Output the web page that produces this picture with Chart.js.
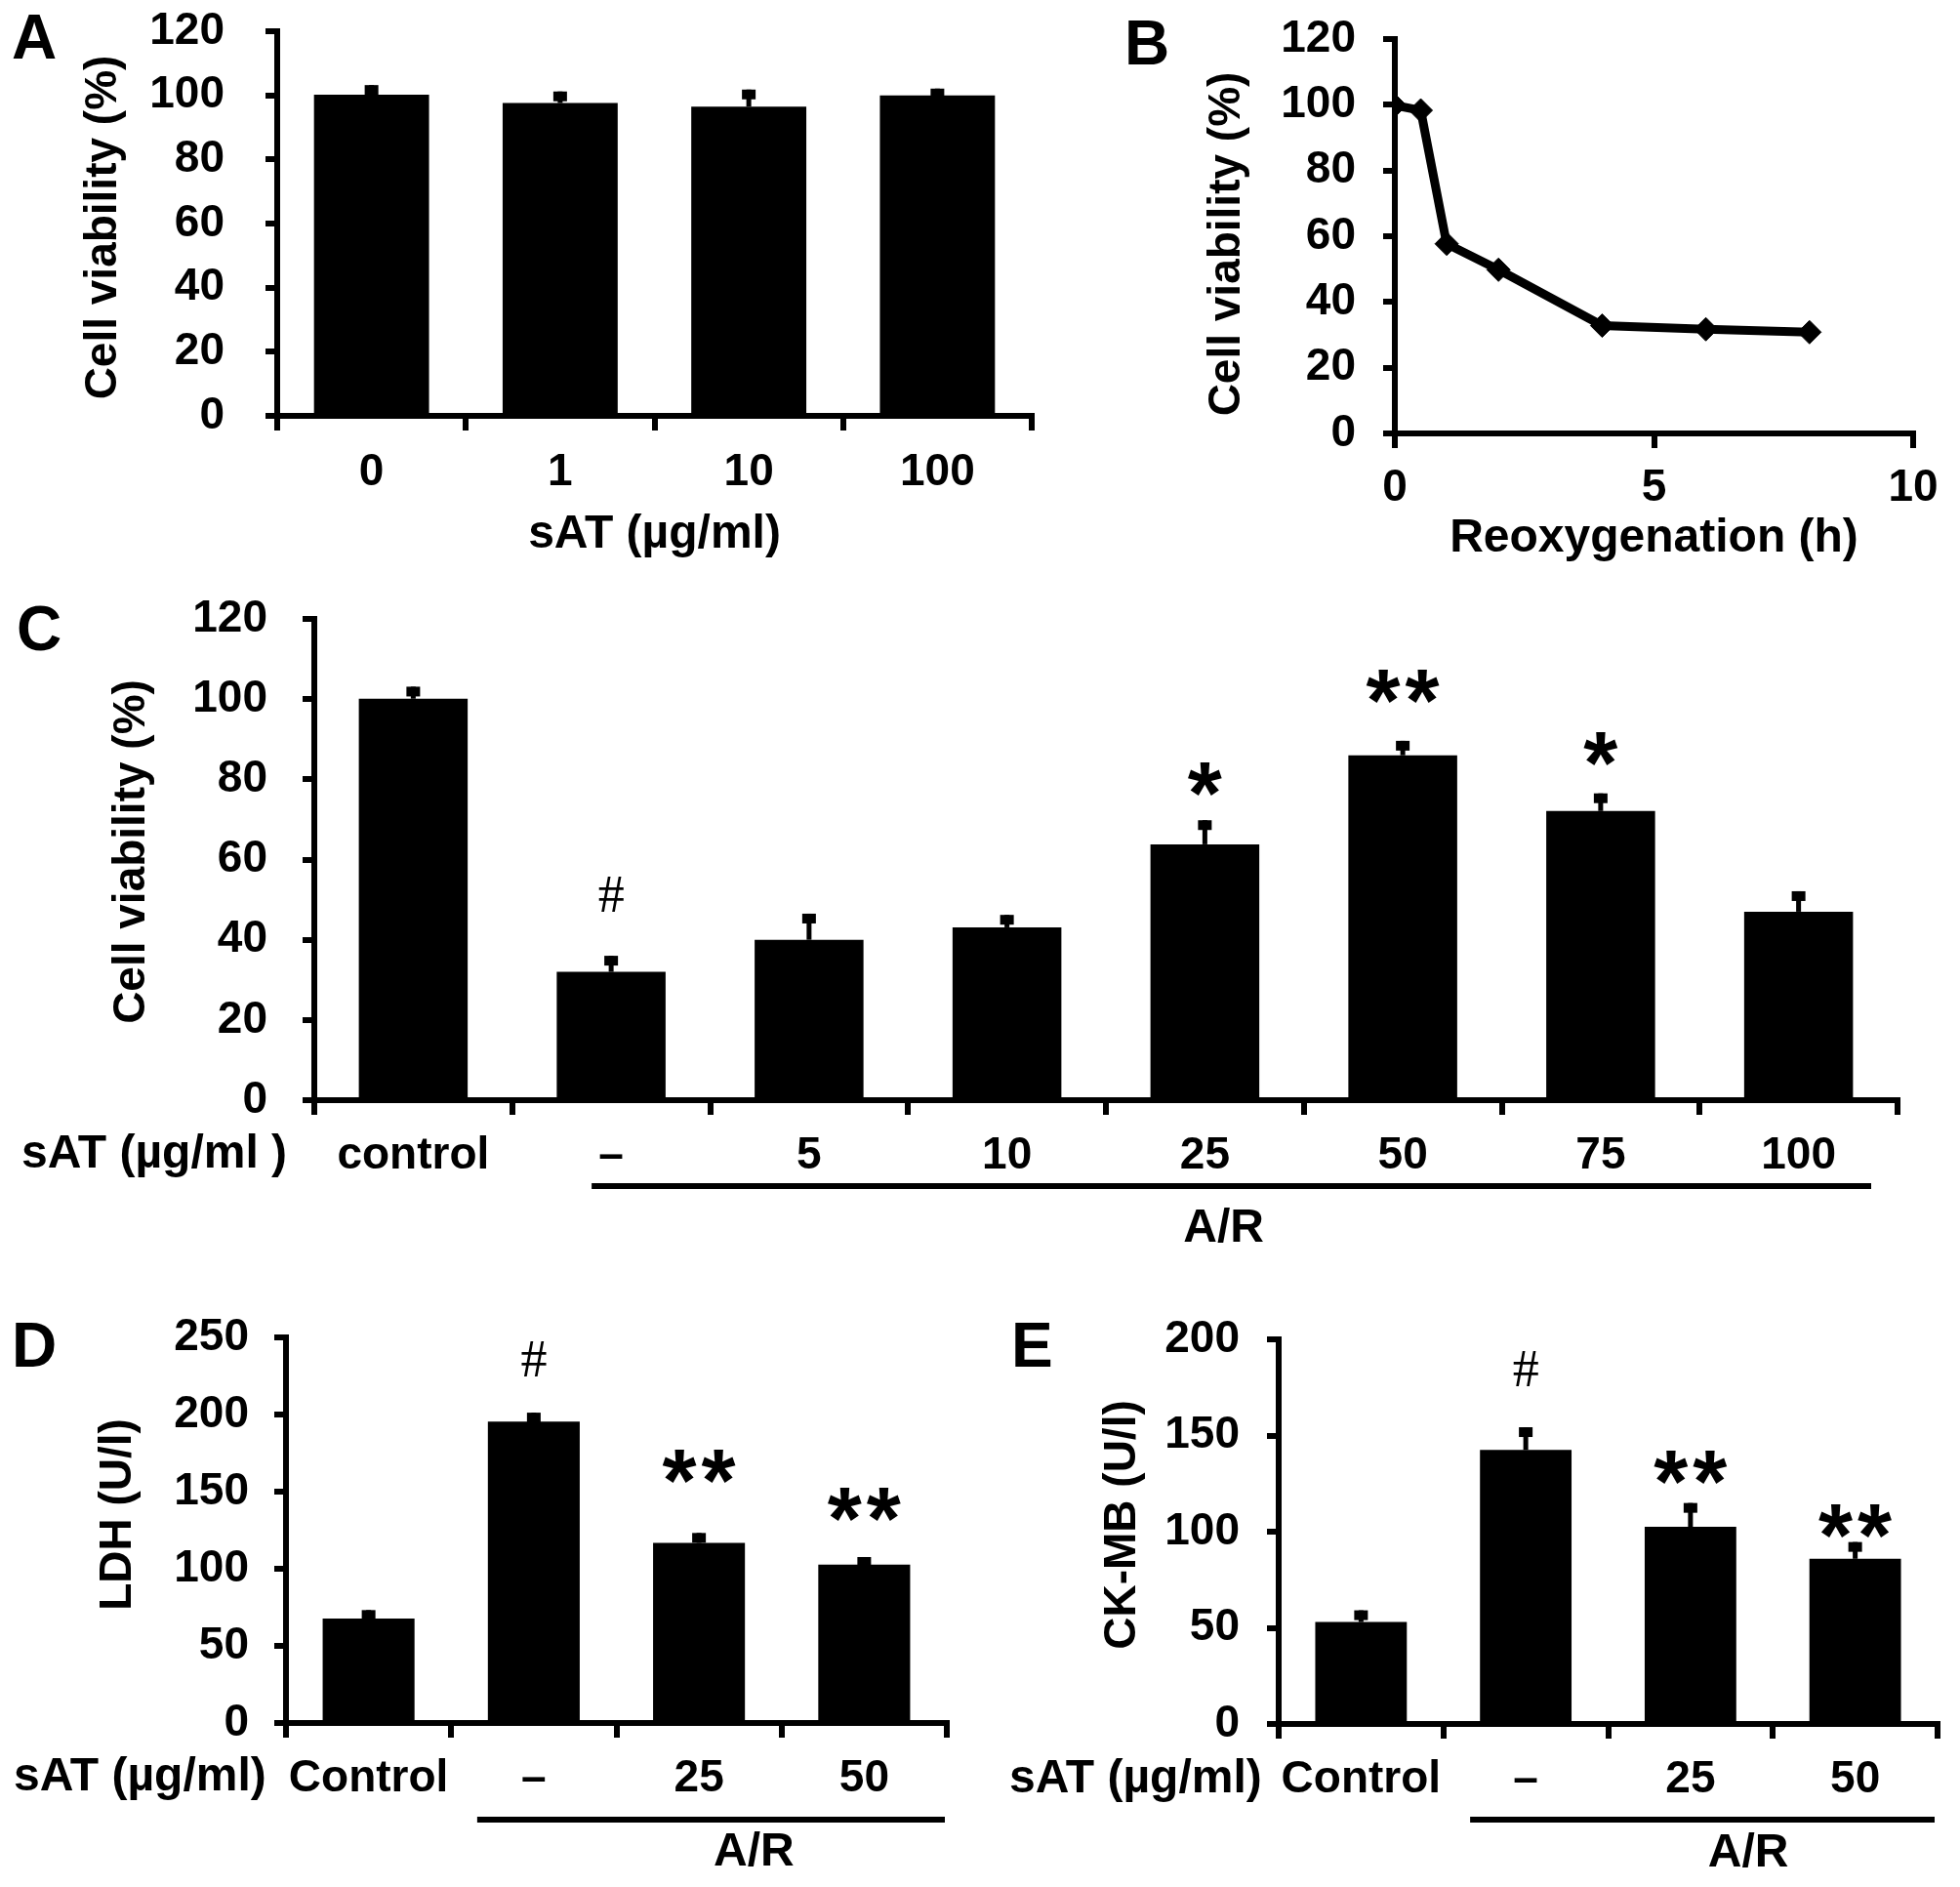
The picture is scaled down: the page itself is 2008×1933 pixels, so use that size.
<!DOCTYPE html>
<html>
<head>
<meta charset="utf-8">
<script src="https://cdn.jsdelivr.net/npm/chart.js@4.4.1/dist/chart.umd.min.js"></script>
<style>
  html, body { margin: 0; padding: 0; background: #fff; }
  #page { position: relative; width: 2008px; height: 1933px; overflow: hidden; background: #fff; }
  #page canvas { position: absolute; }
</style>
</head>
<body>
<div id="page"></div>
<script>
// ---- data ----
const doseA = ['0', '1', '10', '100'];
const viabA = [100.2, 97.6, 96.5, 100.0];
const errA = [3.0, 3.6, 5.3, 2.1];

const timeB = [0, 0.5, 1, 2, 4, 6, 8];
const viabB = [99.8, 98.3, 57.7, 49.8, 32.8, 31.7, 30.8];

const doseC = ['control', '–', '5', '10', '25', '50', '75', '100'];
const viabC = [100.1, 32.0, 40.0, 43.1, 63.8, 86.0, 72.1, 47.0];
const errC = [3.0, 4.0, 6.5, 3.1, 6.0, 3.6, 4.4, 5.1];
const markC = ['', '#', '', '', '*', '**', '*', ''];
const markLevelC = [null, 47, null, null, 76, 99, 83.5, null];

const doseDE = ['Control', '–', '25', '50'];
const ldhD = [67.8, 195.4, 116.8, 102.7];
const errD = [5.4, 5.8, 6.4, 4.9];
const markD = ['', '#', '**', '**'];
const markLevelD = [null, 224.5, 156, 131];

const ckmbE = [53.0, 142.5, 102.5, 85.9];
const errE = [6.1, 11.8, 12.4, 8.7];
const markE = ['', '#', '**', '**'];
const markLevelE = [null, 175.5, 125, 97];

// ---- styling ----
const FONT = '"Liberation Sans", Arial, Helvetica, sans-serif';
const AXIS_W = 6;

Chart.defaults.color = '#000';
Chart.defaults.font.family = FONT;

const tickFont = { family: FONT, size: 46, weight: 'bold', lineHeight: 1 };
const labelFont = { family: FONT, size: 48, weight: 'bold', lineHeight: 1 };

function yAxis(min, max, step, labelPad) {
  return {
    min: min, max: max,
    ticks: { stepSize: step, padding: labelPad, font: tickFont, color: '#000' },
    grid: { drawOnChartArea: false, drawTicks: true, tickLength: 12, lineWidth: AXIS_W, color: '#000' },
    border: { display: true, width: AXIS_W, color: '#000' }
  };
}

function xAxis(labelPad) {
  return {
    type: 'category', offset: true,
    ticks: { padding: labelPad, font: tickFont, color: '#000', autoSkip: false, maxRotation: 0, minRotation: 0 },
    grid: { offset: true, drawOnChartArea: false, drawTicks: true, tickLength: 15, lineWidth: AXIS_W, color: '#000' },
    border: { display: true, width: AXIS_W, color: '#000' }
  };
}

// error bars, significance marks, y titles, panel letters and the group labels under the axis
const extrasPlugin = {
  id: 'extras',
  afterDatasetsDraw(chart, args, o) {
    const ctx = chart.ctx;
    const xs = chart.scales.x, ys = chart.scales.y, area = chart.chartArea;
    ctx.save();
    ctx.fillStyle = '#000';
    ctx.strokeStyle = '#000';

    if (o.errors) {
      const vals = chart.data.datasets[0].data;
      chart.getDatasetMeta(0).data.forEach((bar, i) => {
        const top = ys.getPixelForValue(vals[i]);
        const hi = ys.getPixelForValue(vals[i] + o.errors[i]);
        ctx.fillRect(bar.x - 2.5, hi, 5, top - hi);
        ctx.fillRect(bar.x - 7, hi, 14, 10);
      });
    }

    if (o.marks) {
      const bars = chart.getDatasetMeta(0).data;
      o.marks.forEach((m, i) => {
        if (!m) return;
        const bottom = ys.getPixelForValue(o.levels[i]);
        const cx = bars[i].x;
        ctx.textAlign = 'center';
        ctx.textBaseline = 'alphabetic';
        if (m === '#') {
          ctx.font = 'normal 54px "Liberation Serif", "Times New Roman", serif';
          const d = ctx.measureText('#').actualBoundingBoxDescent;
          ctx.fillText('#', cx, bottom - d);
        } else {
          ctx.font = 'bold 90px ' + FONT;
          const d = ctx.measureText('*').actualBoundingBoxDescent;
          const n = m.length;
          for (let k = 0; k < n; k++) {
            ctx.fillText('*', cx + (k - (n - 1) / 2) * 40, bottom - d);
          }
        }
      });
    }

    if (o.yTitle) {
      ctx.save();
      ctx.translate(o.yTitle.x, (area.top + area.bottom) / 2 + o.yTitle.dy);
      ctx.rotate(-Math.PI / 2);
      ctx.font = 'bold 46px ' + FONT;
      ctx.textAlign = 'center';
      ctx.textBaseline = 'middle';
      ctx.fillText(o.yTitle.text, 0, 0);
      ctx.restore();
    }

    if (o.letter) {
      ctx.font = 'bold 64px ' + FONT;
      ctx.textAlign = 'left';
      ctx.textBaseline = 'alphabetic';
      ctx.fillText(o.letter.text, o.letter.x, o.letter.y);
    }

    if (o.row) {
      ctx.font = 'bold 48px ' + FONT;
      ctx.textAlign = 'left';
      ctx.textBaseline = 'middle';
      ctx.fillText(o.row.text, o.row.x, area.bottom + o.row.dy);

      const x1 = xs.getPixelForValue(1) - o.row.lineStart;
      const x2 = area.right - o.row.lineEnd;
      ctx.fillRect(x1, area.bottom + o.row.lineY - 3, x2 - x1, 6);

      ctx.textAlign = 'center';
      ctx.fillText('A/R', (x1 + x2) / 2 + o.row.groupDx, area.bottom + o.row.groupY);
    }
    ctx.restore();
  }
};

function makePanel(box, area, config) {
  const c = document.createElement('canvas');
  c.width = box.w; c.height = box.h;
  c.style.left = box.x + 'px'; c.style.top = box.y + 'px';
  c.style.width = box.w + 'px'; c.style.height = box.h + 'px';
  document.getElementById('page').appendChild(c);

  const yw = area.l - box.x;
  const xh = box.y + box.h - area.b;
  // fixed axis boxes so the plot area lands where it is in the figure
  config.options.scales.y.afterFit = s => { s.width = yw; s.paddingTop = 0; s.paddingBottom = 0; };
  config.options.scales.x.afterFit = s => { s.height = xh; s.paddingLeft = 0; s.paddingRight = 0; };
  config.options.layout = { padding: { left: 0, bottom: 0, top: area.t - box.y, right: box.x + box.w - area.r } };
  config.options.responsive = false;
  config.options.animation = false;
  config.options.devicePixelRatio = 1;
  config.options.plugins.legend = { display: false };
  config.options.plugins.tooltip = { enabled: false };
  config.plugins = [extrasPlugin];
  return new Chart(c, config);
}

function barData(labels, values, pct) {
  return {
    labels: labels,
    datasets: [{ data: values, backgroundColor: '#000', borderWidth: 0, barPercentage: pct, categoryPercentage: 1 }]
  };
}

// ---- A ----
const xA = xAxis(20);
xA.title = { display: true, text: 'sAT (µg/ml)', color: '#000', font: labelFont, padding: { top: 0, bottom: 28 } };
makePanel({ x: 0, y: 0, w: 1100, h: 600 }, { l: 284, t: 32, r: 1057, b: 426 }, {
  type: 'bar',
  data: barData(doseA, viabA, 0.61),
  options: {
    scales: { x: xA, y: yAxis(0, 120, 20, 42) },
    plugins: { extras: {
      errors: errA,
      yTitle: { text: 'Cell viability (%)', x: 106, dy: 4 },
      letter: { text: 'A', x: 12, y: 60 }
    } }
  }
});

// ---- B ----
const xB = {
  type: 'linear', min: 0, max: 10,
  ticks: { stepSize: 5, padding: 18, font: tickFont, color: '#000', maxRotation: 0 },
  grid: { drawOnChartArea: false, drawTicks: true, tickLength: 15, lineWidth: AXIS_W, color: '#000' },
  border: { display: true, width: AXIS_W, color: '#000' },
  title: { display: true, text: 'Reoxygenation (h)', color: '#000', font: labelFont, padding: { top: 0, bottom: 24 } }
};
makePanel({ x: 1100, y: 0, w: 908, h: 600 }, { l: 1429, t: 40, r: 1960, b: 444 }, {
  type: 'line',
  data: {
    datasets: [{
      data: timeB.map((t, i) => ({ x: t, y: viabB[i] })),
      borderColor: '#000', borderWidth: 9, tension: 0,
      pointStyle: 'rectRot', pointRadius: 12, pointBackgroundColor: '#000', pointBorderColor: '#000', pointBorderWidth: 1
    }]
  },
  options: {
    scales: { x: xB, y: yAxis(0, 120, 20, 28) },
    plugins: { extras: {
      yTitle: { text: 'Cell viability (%)', x: 157, dy: 8 },
      letter: { text: 'B', x: 52, y: 66 }
    } }
  }
});

// ---- C ----
makePanel({ x: 0, y: 600, w: 2008, h: 700 }, { l: 322, t: 634, r: 1944, b: 1127 }, {
  type: 'bar',
  data: barData(doseC, viabC, 0.55),
  options: {
    scales: { x: xAxis(19), y: yAxis(0, 120, 20, 36) },
    plugins: {
      extras: {
        errors: errC, marks: markC, levels: markLevelC,
        yTitle: { text: 'Cell viability (%)', x: 135, dy: -8 },
        letter: { text: 'C', x: 17, y: 66 },
        row: { text: 'sAT (µg/ml )', x: 22, dy: 56, lineStart: 20, lineEnd: 27, lineY: 88, groupDx: -8, groupY: 132 }
      }
    }
  }
});

// ---- D ----
makePanel({ x: 0, y: 1300, w: 1000, h: 633 }, { l: 293, t: 1370, r: 970, b: 1765 }, {
  type: 'bar',
  data: barData(doseDE, ldhD, 0.556),
  options: {
    scales: { x: xAxis(19), y: yAxis(0, 250, 50, 26) },
    plugins: {
      extras: {
        errors: errD, marks: markD, levels: markLevelD,
        yTitle: { text: 'LDH (U/l)', x: 121, dy: -16 },
        letter: { text: 'D', x: 12, y: 100 },
        row: { text: 'sAT (µg/ml)', x: 14, dy: 56, lineStart: 58, lineEnd: 2, lineY: 99, groupDx: 44, groupY: 133 }
      }
    }
  }
});

// ---- E ----
makePanel({ x: 1000, y: 1300, w: 1008, h: 633 }, { l: 1310, t: 1372, r: 1985, b: 1766 }, {
  type: 'bar',
  data: barData(doseDE, ckmbE, 0.556),
  options: {
    scales: { x: xAxis(19), y: yAxis(0, 200, 50, 28) },
    plugins: {
      extras: {
        errors: errE, marks: markE, levels: markLevelE,
        yTitle: { text: 'CK-MB (U/l)', x: 150, dy: -7 },
        letter: { text: 'E', x: 36, y: 100 },
        row: { text: 'sAT (µg/ml)', x: 34, dy: 57, lineStart: 57, lineEnd: 3, lineY: 98, groupDx: 47, groupY: 133 }
      }
    }
  }
});
</script>
</body>
</html>
